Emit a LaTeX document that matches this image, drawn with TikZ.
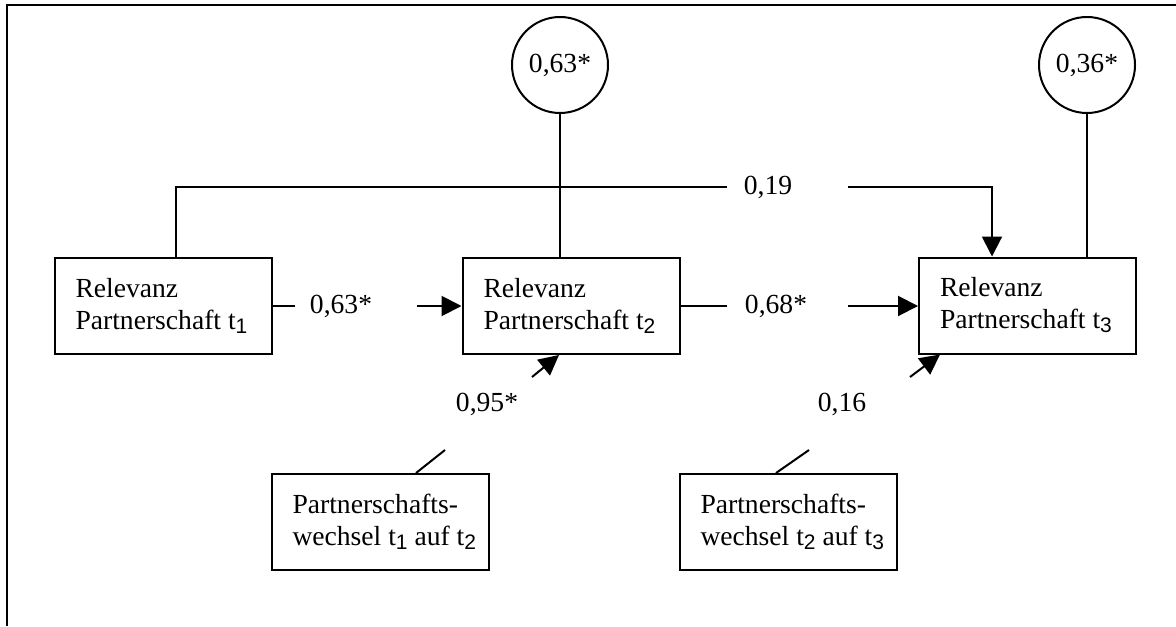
\documentclass[tikz,border=0pt]{standalone}
\usepackage{fontspec}
\setmainfont{Liberation Serif}
\setsansfont{Liberation Sans}
\usetikzlibrary{arrows.meta}
\newcommand\sbs[1]{\raisebox{-2pt}{\fontsize{10.5}{10.5}\selectfont\sffamily #1}}
\newcommand\fixln[1]{\makebox[87.5pt][l]{#1}}
\begin{document}
\begin{tikzpicture}[x=0.5pt,y=-0.5pt,line width=1pt,
  every node/.style={font=\fontsize{13.8}{16}\selectfont},
  rbox/.style={draw,rectangle,align=left,inner xsep=10.5pt,inner ysep=0pt,minimum height=48pt},
  resid/.style={draw,circle,minimum size=48pt,inner sep=0pt},
  arr/.style={-{Triangle[length=10pt,width=10pt]}},
  lab/.style={inner sep=0pt}]
\useasboundingbox (0,0) rectangle (1176,626);
% frame
\draw (7,626) -- (7,5) -- (1176,5);
% boxes
\node[rbox] (b1) at (163,305.5) {\fixln{Relevanz}\\\fixln{Partnerschaft t\sbs{1}}};
\node[rbox] (b2) at (571,306) {\fixln{Relevanz}\\\fixln{Partnerschaft t\sbs{2}}};
\node[rbox] (b3) at (1027.5,305.5) {\fixln{Relevanz}\\\fixln{Partnerschaft t\sbs{3}}};
\node[rbox] (w1) at (380,522) {\fixln{Partnerschafts-}\\\fixln{wechsel t\sbs{1} auf t\sbs{2}}};
\node[rbox] (w2) at (788,522) {\fixln{Partnerschafts-}\\\fixln{wechsel t\sbs{2} auf t\sbs{3}}};
% residuals
\node[resid] (c1) at (560,65) {0,63*};
\node[resid] (c2) at (1087,65) {0,36*};
% labels
\node[lab] (l63) at (341,306) {0,63*};
\node[lab] (l68) at (776,306) {0,68*};
\node[lab] (l19) at (768,187) {0,19};
\node[lab] (l95) at (487,404) {0,95*};
\node[lab] (l16) at (842,404) {0,16};
% coordinates for broken connectors
\coordinate (p1) at (295,306);
\coordinate (p2) at (417,306);
\coordinate (p3) at (727,306);
\coordinate (p4) at (848,306);
\coordinate (k1) at (176,187);
\coordinate (k2) at (727,187);
\coordinate (k3) at (848,187);
\coordinate (k4) at (992,187);
\coordinate (s1) at (416,474);
\coordinate (d1) at (445,450);
\coordinate (d2) at (532,377);
\coordinate (e1) at (559,354);
\coordinate (s2) at (776,474);
\coordinate (d3) at (809,450);
\coordinate (d4) at (910,377);
\coordinate (e2) at (940,354);
% connectors
\draw (b1.east |- p1) -- (p1);
\draw[arr] (p2) -- (b2.west |- p2);
\draw (b2.east |- p3) -- (p3);
\draw[arr] (p4) -- (b3.west |- p4);
\draw (b1.north -| k1) -- (k1) -- (k2);
\draw[arr] (k3) -- (k4) -- (b3.north -| k4);
\draw (c1.south) -- (b2.north -| c1.south);
\draw (c2.south) -- (b3.north -| c2.south);
\draw (w1.north -| s1) -- (d1);
\draw[arr] (d2) -- (b2.south -| e1);
\draw (w2.north -| s2) -- (d3);
\draw[arr] (d4) -- (b3.south -| e2);
\end{tikzpicture}
\end{document}
